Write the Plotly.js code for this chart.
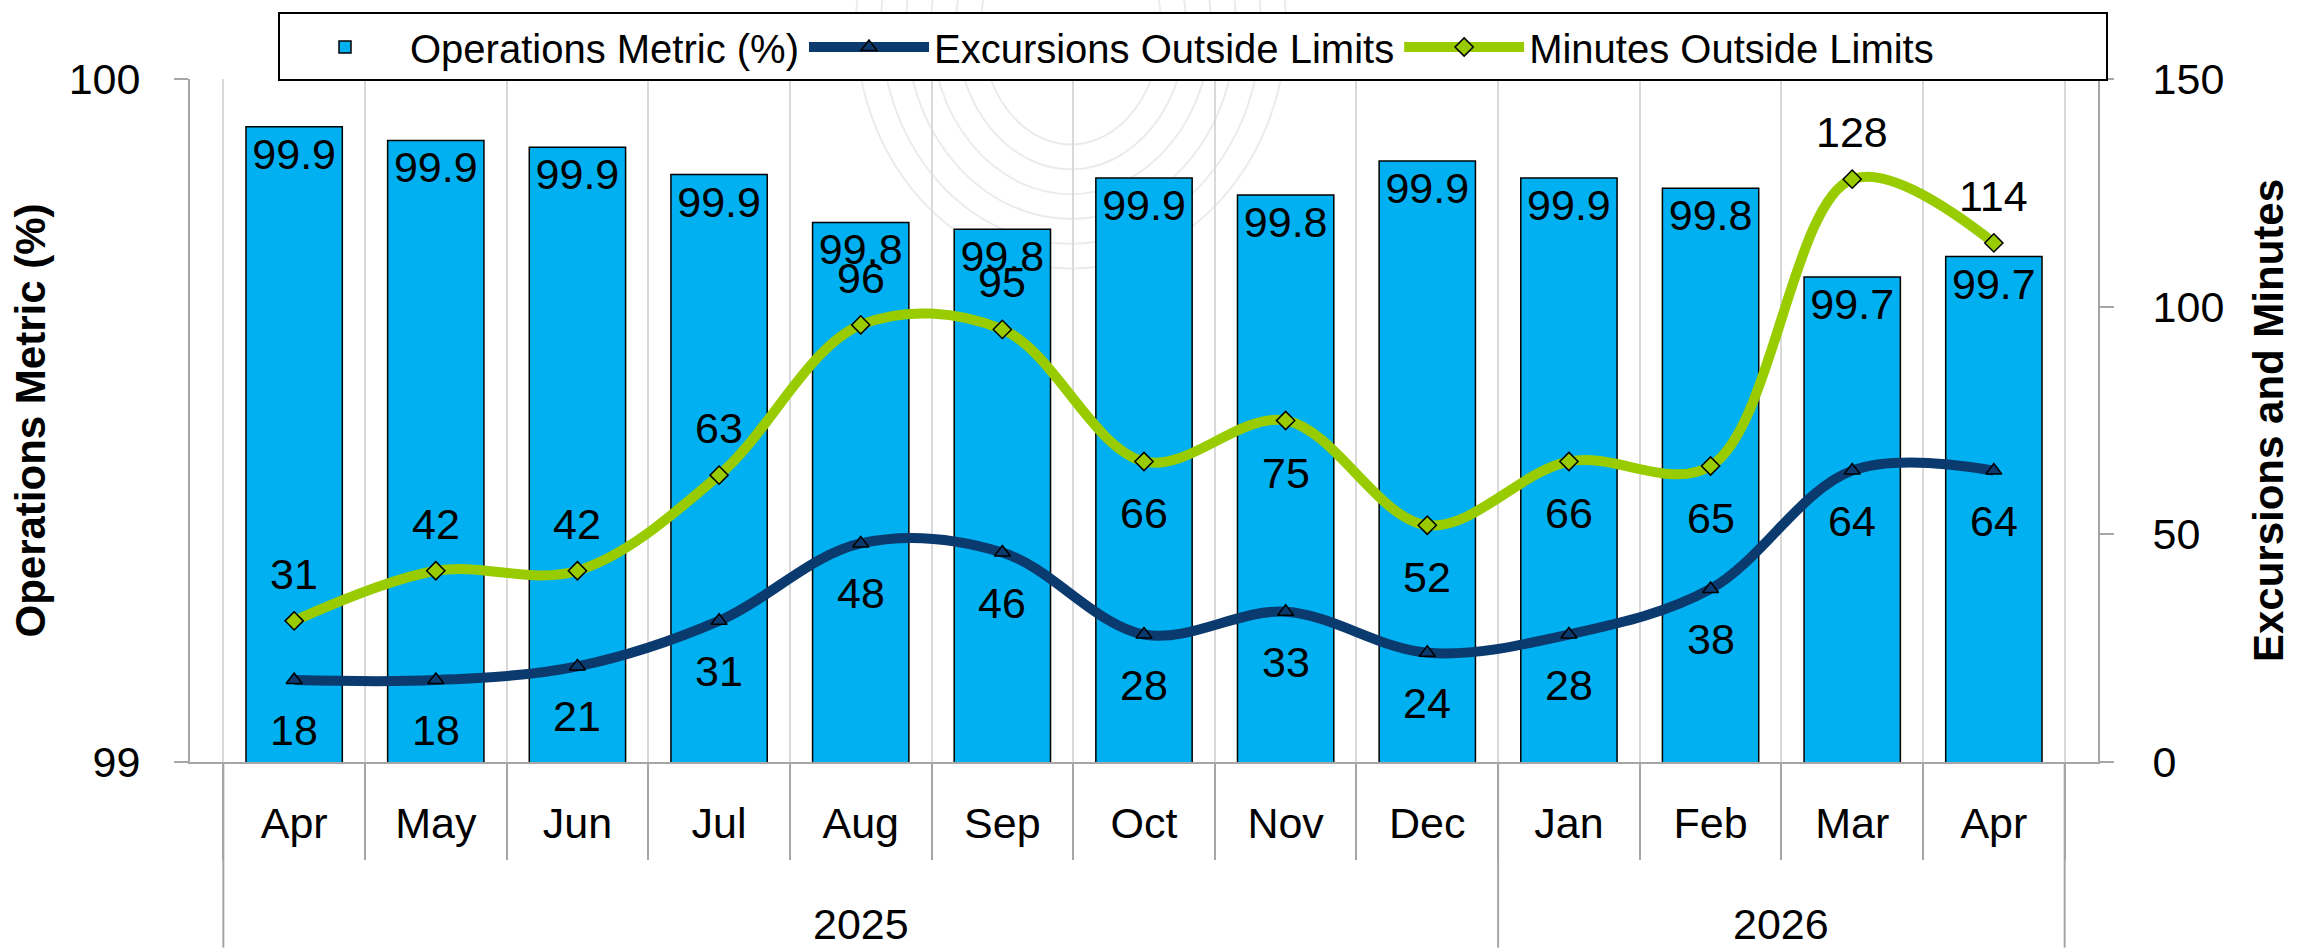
<!DOCTYPE html>
<html>
<head>
<meta charset="utf-8">
<script src="https://cdn.plot.ly/plotly-3.0.1.min.js"></script>
<style>
  html, body { margin: 0; padding: 0; background: #ffffff; }
  #chart { width: 2321px; height: 949px; }
</style>
</head>
<body>
<div id="chart"></div>
<script>
// ---- data ----
var years  = ['2025','2025','2025','2025','2025','2025','2025','2025','2025','2026','2026','2026','2026'];
var months = ['Apr','May','Jun','Jul','Aug','Sep','Oct','Nov','Dec','Jan','Feb','Mar','Apr'];
var operationsMetric = [99.93, 99.91, 99.90, 99.86, 99.79, 99.78, 99.855, 99.83, 99.88, 99.855, 99.84, 99.71, 99.74];
var excursions = [18, 18, 21, 31, 48, 46, 28, 33, 24, 28, 38, 64, 64];
var minutes    = [31, 42, 42, 63, 96, 95, 66, 75, 52, 66, 65, 128, 114];
var seriesNames = ['Operations Metric (%)', 'Excursions Outside Limits', 'Minutes Outside Limits'];

// ---- styling ----
var FONT = "'Liberation Sans', Arial, sans-serif";
var GRAY = '#a6a6a6';
var GRID = '#d9d9d9';
var FS = 43;
var NAVY = '#0A3A6E';
var GREEN = '#99CC00';
var PAD = '\u00a0'.repeat(15); // extra room at the right end of the legend box

// label placement for the minutes series (above / below the point), as in the reference
var minutesLabelSide = ['up','up','up','up','up','up','down','down','down','down','down','up','up'];

var W = 2321, H = 949;
var M = {l: 190, r: 223, t: 74, b: 187};
function px2x(p) { return (p - M.l) / (W - M.l - M.r); }
function py2y(p) { return (H - M.b - p) / (H - M.t - M.b); }

// unique category keys (month + year), months shown as tick text
var keys = months.map(function (m, i) { return m + ' ' + years[i]; });

var traces = [
  {
    type: 'bar', name: seriesNames[0],
    x: keys, y: operationsMetric, yaxis: 'y',
    marker: {color: '#00B0F0', line: {color: '#000000', width: 1.5}},
    texttemplate: '%{y:.1f}', textposition: 'inside', insidetextanchor: 'end',
    constraintext: 'none', textangle: 0,
    textfont: {family: FONT, size: FS, color: '#000000'}
  },
  {
    type: 'scatter', mode: 'lines+markers', name: seriesNames[1],
    x: keys, y: excursions, yaxis: 'y2',
    line: {color: NAVY, width: 10, shape: 'spline', smoothing: 1},
    marker: {symbol: 'triangle-up', size: 14, color: NAVY, line: {color: '#000000', width: 1.5}}
  },
  {
    type: 'scatter', mode: 'lines+markers', name: seriesNames[2] + PAD,
    x: keys, y: minutes, yaxis: 'y2',
    line: {color: GREEN, width: 10, shape: 'spline', smoothing: 1},
    marker: {symbol: 'diamond', size: 14, color: GREEN, line: {color: '#000000', width: 1.5}}
  }
];

var annotations = [];
// line value labels
excursions.forEach(function (v, i) {
  annotations.push({xref: 'x', yref: 'y2', x: keys[i], y: v, text: String(v),
    showarrow: false, yanchor: 'middle', yshift: -50,
    font: {family: FONT, size: FS, color: '#000000'}});
});
minutes.forEach(function (v, i) {
  annotations.push({xref: 'x', yref: 'y2', x: keys[i], y: v, text: String(v),
    showarrow: false, yanchor: 'middle', yshift: minutesLabelSide[i] === 'up' ? 47 : -52,
    font: {family: FONT, size: FS, color: '#000000'}});
});

// year group labels and dividers
var groups = [];
years.forEach(function (y, i) {
  if (!groups.length || groups[groups.length - 1].name !== y) groups.push({name: y, start: i, end: i});
  else groups[groups.length - 1].end = i;
});
var shapes = [];
groups.forEach(function (g) {
  annotations.push({xref: 'x', yref: 'paper', x: (g.start + g.end) / 2, y: py2y(925),
    text: g.name, showarrow: false, yanchor: 'middle',
    font: {family: FONT, size: FS, color: '#000000'}});
});
var bounds = [groups[0].start - 0.5].concat(groups.map(function (g) { return g.end + 0.5; }));
bounds.forEach(function (b) {
  shapes.push({type: 'line', xref: 'x', yref: 'paper', x0: b, x1: b, y0: 0, y1: py2y(H),
    line: {color: GRAY, width: 2}, layer: 'above'});
});

// faint watermark arcs (decoration)
var arcs = [[215, 265], [190, 240], [165, 215], [140, 190], [115, 165], [90, 140]];
var cx = 1071, cy = 20;
arcs.forEach(function (a) {
  shapes.push({
    type: 'circle', xref: 'paper', yref: 'paper', layer: 'below',
    x0: px2x(cx - a[0]), x1: px2x(cx + a[0]),
    y0: py2y(a[1]), y1: py2y(2 * cy - a[1]),
    line: {color: 'rgba(0,0,0,0.08)', width: 2}
  });
});

var layout = {
  width: W, height: H,
  margin: M,
  paper_bgcolor: '#ffffff', plot_bgcolor: 'rgba(0,0,0,0)',
  font: {family: FONT, size: FS, color: '#000000'},
  bargap: 0.32,
  showlegend: true,
  legend: {
    orientation: 'h', x: px2x(278), xanchor: 'left', y: py2y(7), yanchor: 'top',
    bgcolor: '#ffffff', bordercolor: '#000000', borderwidth: 2,
    font: {family: FONT, size: 40, color: '#000000'},
    traceorder: 'normal', itemwidth: 120
  },
  xaxis: {
    type: 'category',
    tickmode: 'array', tickvals: keys, ticktext: months,
    tickson: 'boundaries',
    showline: true, linecolor: GRAY, linewidth: 2,
    ticks: 'outside', ticklen: 96, tickcolor: GRAY, tickwidth: 2,
    showgrid: true, gridcolor: GRID, gridwidth: 2,
    tickfont: {family: FONT, size: FS, color: '#000000'},
    ticklabelstandoff: 22
  },
  yaxis: {
    range: [99, 100], tick0: 99, dtick: 1,
    ticks: 'outside', ticklen: 14, tickcolor: GRAY, tickwidth: 2,
    showline: true, linecolor: GRAY, linewidth: 2,
    showgrid: true, gridcolor: GRID, gridwidth: 2, zeroline: false,
    tickfont: {family: FONT, size: FS, color: '#000000'},
    ticklabelstandoff: 25,
    title: {text: 'Operations Metric (%)', font: {family: FONT, size: 42, color: '#000000', weight: 'bold'}, standoff: 10}
  },
  yaxis2: {
    overlaying: 'y', side: 'right',
    range: [0, 150], tick0: 0, dtick: 50,
    ticks: 'outside', ticklen: 14, tickcolor: GRAY, tickwidth: 2,
    showline: true, linecolor: GRAY, linewidth: 2,
    showgrid: false, zeroline: false,
    tickfont: {family: FONT, size: FS, color: '#000000'},
    ticklabelstandoff: 30,
    title: {text: 'Excursions and Minutes', font: {family: FONT, size: 42, color: '#000000', weight: 'bold'}, standoff: 30}
  },
  annotations: annotations,
  shapes: shapes
};

Plotly.newPlot('chart', traces, layout, {displayModeBar: false, staticPlot: true});
</script>
</body>
</html>
